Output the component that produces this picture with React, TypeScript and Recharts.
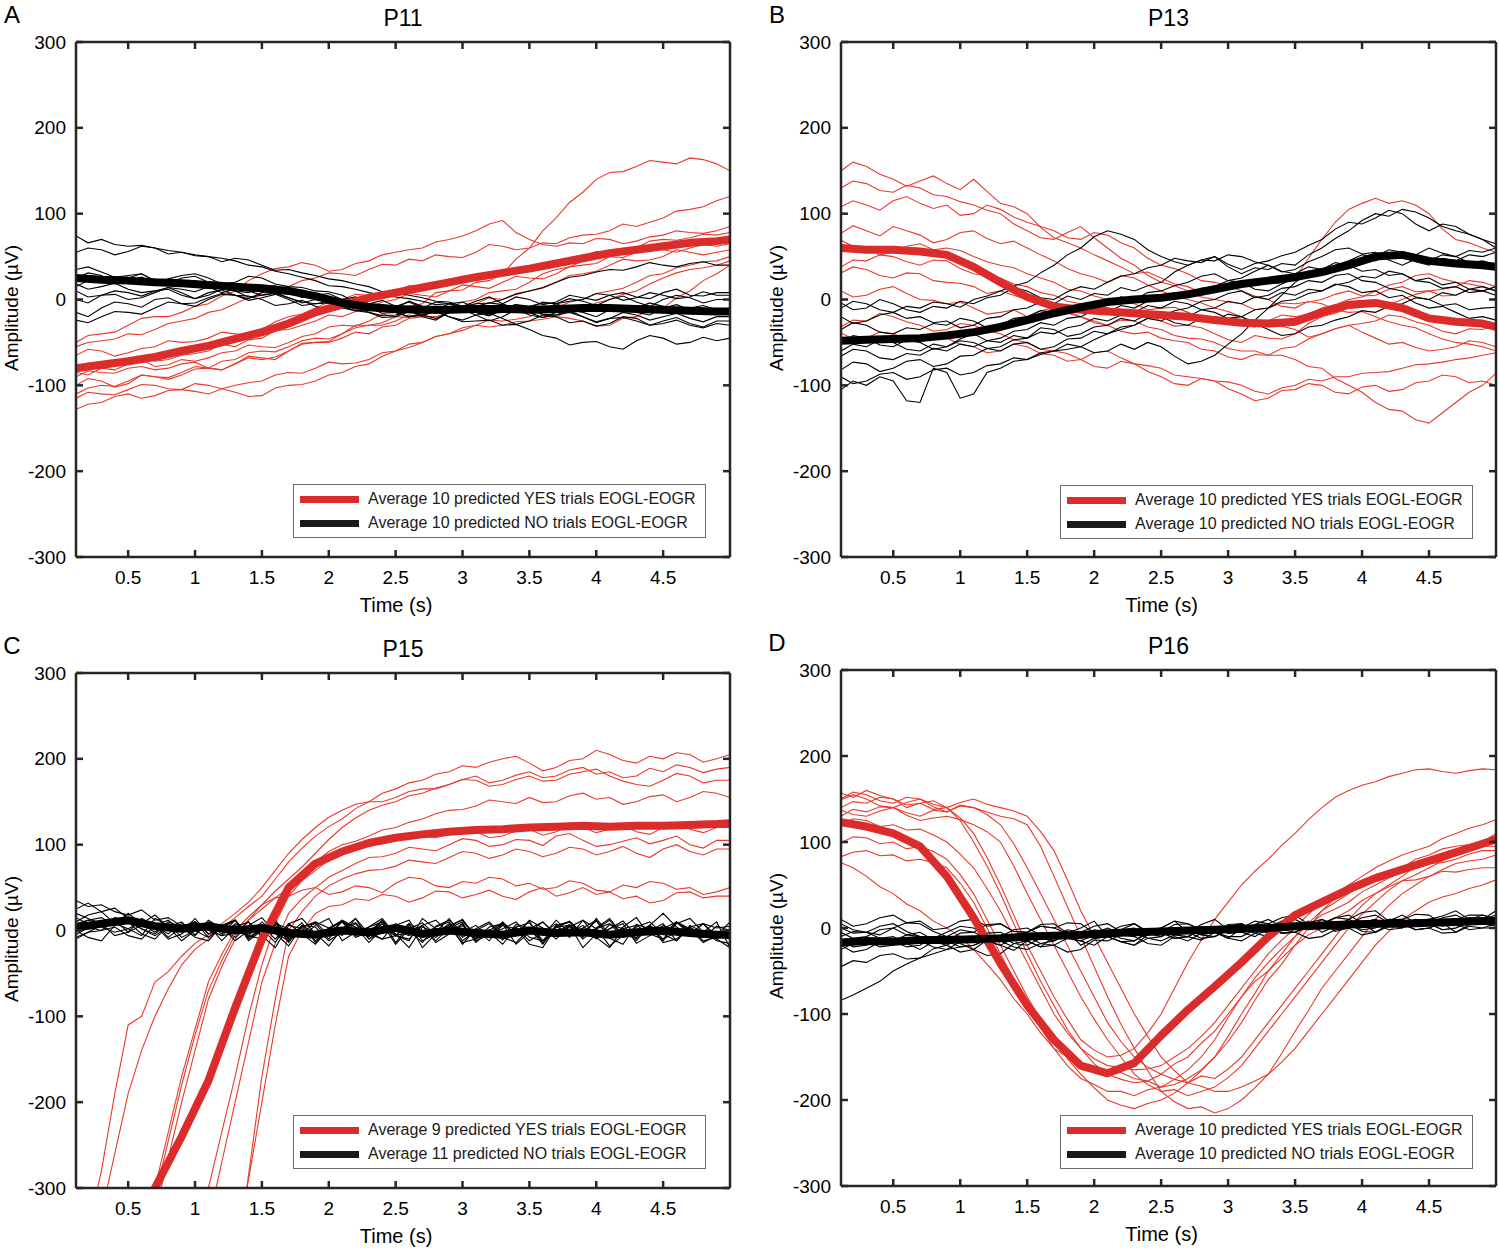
import React from "react";
import { Line, LineChart, XAxis, YAxis } from "recharts";

const FONT = '"Liberation Sans", Arial, Helvetica, sans-serif';
const AXIS = "#262626";
const RED_THIN = "#E8392C";
const RED_THICK = "#DC2B2B";
const BLACK = "#000000";
const TICK_LEN = 7;

// time grid for the single trials (s)
const TIME_FINE = [
  0.11, 0.2, 0.3, 0.4, 0.5, 0.6, 0.7, 0.8, 0.9, 1.0, 1.1, 1.2, 1.3, 1.4, 1.5, 1.6, 1.7, 1.8, 1.9, 2.0,
  2.1, 2.2, 2.3, 2.4, 2.5, 2.6, 2.7, 2.8, 2.9, 3.0, 3.1, 3.2, 3.3, 3.4, 3.5, 3.6, 3.7, 3.8, 3.9, 4.0,
  4.1, 4.2, 4.3, 4.4, 4.5, 4.6, 4.7, 4.8, 4.9, 5.0,
];
// time grid for the averages (s)
const TIME_AVG = [
  0.11, 0.3, 0.5, 0.7, 0.9, 1.1, 1.3, 1.5, 1.7, 1.9, 2.1, 2.3, 2.5, 2.7, 2.9,
  3.1, 3.3, 3.5, 3.7, 3.9, 4.1, 4.3, 4.5, 4.7, 4.9, 5.0,
];
const X_TICKS = [0.5, 1, 1.5, 2, 2.5, 3, 3.5, 4, 4.5];
const Y_TICKS = [-300, -200, -100, 0, 100, 200, 300];

// ---------- P11 ----------
const P11_YES_AVG = [-80, -76, -72, -67, -60, -54, -46, -38, -28, -15, -6, 2, 8, 14, 20, 26, 31, 36, 42, 48, 54, 58, 62, 66, 68, 70];
const P11_NO_AVG = [25, 23, 22, 20, 19, 17, 15, 13, 10, 4, -4, -9, -11, -12, -12, -11, -11, -12, -11, -10, -10, -11, -12, -13, -14, -14];
const P11_YES = [
  [-100, -92, -95, -102, -98, -88, -90, -91, -85, -78, -80, -82, -75, -66, -68, -70, -60, -51, -50, -49, -40, -30, -30, -27, -20, -8, -5, 8, 10, 11, 20, 22, 30, 47, 60, 80, 95, 113, 125, 140, 148, 149, 155, 162, 160, 158, 165, 163, 158, 150],
  [-55, -50, -48, -46, -40, -41, -35, -28, -25, -22, -15, -12, -5, 2, 5, 12, 15, 22, 25, 31, 30, 28, 35, 41, 40, 47, 45, 52, 50, 49, 55, 64, 62, 58, 60, 66, 65, 72, 75, 76, 80, 88, 85, 90, 95, 103, 105, 108, 115, 120],
  [-50, -42, -40, -38, -30, -22, -20, -20, -15, -8, -5, 4, 10, 22, 30, 36, 38, 43, 40, 33, 35, 42, 45, 52, 55, 58, 60, 67, 70, 74, 80, 88, 92, 78, 70, 64, 62, 66, 65, 71, 70, 65, 68, 73, 75, 80, 78, 77, 80, 85],
  [-65, -58, -60, -66, -62, -57, -55, -48, -50, -49, -45, -38, -40, -41, -35, -26, -20, -17, -10, -3, 0, 6, 5, 4, 10, 16, 15, 14, 20, 27, 28, 26, 30, 36, 35, 42, 45, 46, 50, 56, 55, 58, 60, 68, 70, 69, 72, 76, 75, 78],
  [-80, -74, -75, -77, -70, -66, -72, -70, -65, -63, -60, -52, -55, -47, -45, -36, -35, -30, -25, -18, -20, -14, -10, -3, 0, 7, 5, 3, 10, 17, 15, 13, 20, 27, 25, 24, 30, 38, 40, 42, 50, 57, 55, 56, 60, 67, 65, 64, 68, 72],
  [-85, -88, -80, -82, -75, -70, -78, -76, -70, -72, -68, -62, -60, -53, -55, -56, -50, -43, -40, -32, -30, -31, -25, -17, -20, -21, -15, -8, -10, -3, 0, 8, 10, 12, 20, 30, 35, 38, 45, 52, 50, 49, 55, 60, 58, 55, 60, 64, 62, 65],
  [-90, -83, -85, -86, -80, -78, -82, -80, -75, -73, -80, -72, -70, -62, -60, -61, -55, -48, -45, -46, -40, -33, -30, -30, -25, -18, -20, -13, -10, -11, -5, 2, 0, 7, 10, 13, 20, 28, 30, 33, 40, 47, 45, 46, 50, 58, 55, 52, 55, 58],
  [-110, -103, -100, -101, -95, -88, -90, -93, -88, -81, -80, -82, -75, -68, -70, -67, -60, -52, -50, -50, -45, -38, -40, -32, -30, -22, -20, -20, -15, -8, -10, -17, -15, -9, -10, -18, -20, -22, -25, -31, -30, -22, -20, -12, -10, 2, 10, 22, 30, 40],
  [-128, -122, -120, -113, -110, -115, -112, -106, -105, -98, -100, -104, -100, -97, -95, -88, -85, -86, -80, -73, -75, -74, -70, -62, -60, -52, -50, -43, -40, -33, -30, -24, -25, -23, -20, -12, -10, -3, 0, 7, 10, 13, 20, 28, 30, 37, 40, 44, 45, 50],
  [-115, -108, -110, -111, -105, -99, -100, -104, -105, -107, -110, -104, -108, -113, -112, -103, -100, -99, -95, -88, -85, -78, -75, -66, -60, -56, -50, -43, -40, -36, -30, -32, -30, -26, -25, -23, -20, -13, -10, -4, 0, 6, 10, 18, 25, 31, 35, 37, 40, 45],
];
const P11_NO = [
  [74, 66, 70, 64, 62, 63, 60, 53, 55, 51, 50, 44, 48, 46, 40, 34, 35, 31, 28, 24, 22, 18, 15, 9, 8, 5, 2, -2, -3, -8, -5, -4, 0, 6, 10, 14, 20, 26, 28, 32, 35, 34, 38, 43, 40, 38, 42, 44, 40, 40],
  [55, 60, 58, 52, 56, 62, 60, 57, 55, 52, 50, 48, 45, 40, 38, 33, 30, 26, 22, 16, 15, 12, 8, 5, 3, 1, -2, -6, -5, -10, -8, -4, -6, -11, -10, -3, -5, -11, -8, -13, -12, -8, -10, -4, -8, -14, -10, -7, -12, -10],
  [35, 38, 32, 26, 28, 30, 22, 18, 20, 22, 15, 8, 12, 10, 5, 8, 2, -3, -5, -2, -8, -13, -12, -10, -15, -20, -18, -14, -20, -24, -18, -16, -22, -29, -25, -18, -20, -27, -25, -31, -28, -20, -22, -30, -25, -21, -28, -32, -25, -25],
  [25, 31, 28, 20, 22, 26, 20, 24, 28, 30, 25, 18, 20, 27, 25, 18, 15, 14, 10, 9, 5, -3, -5, -6, -10, -2, -8, -12, -5, -3, -10, -11, -5, 3, 0, -6, -3, 5, 2, -1, 5, 8, 3, 1, 8, 12, 5, 4, 8, 8],
  [18, 12, 15, 19, 12, 8, 10, 14, 8, 1, 5, 12, 10, 3, 5, 7, 2, -4, 0, -1, -5, -11, -10, -9, -15, -20, -18, -14, -20, -26, -25, -24, -30, -29, -35, -42, -45, -53, -50, -49, -55, -58, -48, -42, -45, -52, -50, -44, -48, -45],
  [10, 3, 5, 6, 0, 2, 8, 14, 12, 9, 15, 16, 10, 8, 15, 16, 10, 2, 5, 1, -5, -6, -10, -16, -15, -9, -12, -15, -10, -8, -15, -19, -12, -11, -18, -21, -15, -13, -20, -26, -22, -21, -25, -30, -28, -24, -30, -33, -28, -30],
  [0, -4, 5, 10, 8, 4, 10, 12, 5, 1, 8, 11, 5, -1, 2, 6, 0, -7, -5, -4, -10, -13, -15, -21, -20, -14, -18, -22, -15, -10, -12, -17, -10, -6, -8, -12, -5, -2, 0, 7, 5, -1, 2, 8, 5, 1, 3, 9, 5, 5],
  [-15, -20, -10, -3, -5, -9, 0, 2, -5, -4, 2, 7, 5, 4, 0, -7, -5, -1, -8, -14, -10, -7, -15, -19, -18, -13, -20, -24, -15, -12, -18, -25, -20, -12, -15, -21, -18, -15, -20, -27, -22, -15, -18, -24, -20, -16, -22, -26, -20, -20],
  [-24, -27, -20, -14, -15, -17, -10, -3, -5, -8, 0, 6, 5, 1, 8, 13, 10, 4, 5, 7, 0, -6, -5, -1, -8, -14, -10, -3, -5, -8, -2, 3, -5, -11, -8, -4, -5, 1, -2, -7, 0, 4, -3, -8, 0, 5, 2, -4, 0, 0],
  [15, 22, 20, 18, 25, 30, 22, 19, 25, 27, 20, 14, 18, 16, 12, 7, 10, 11, 5, -2, 0, 3, -5, -10, -8, -3, -10, -16, -12, -10, -15, -18, -10, -6, -12, -17, -18, -12, -15, -20, -12, -9, -15, -18, -10, -6, -12, -17, -15, -12],
];

// ---------- P13 ----------
const P13_YES_AVG = [60, 58, 58, 56, 52, 38, 20, 3, -8, -12, -14, -16, -18, -20, -24, -27, -28, -26, -15, -6, -4, -10, -22, -26, -28, -32];
const P13_NO_AVG = [-48, -47, -46, -45, -42, -38, -32, -24, -16, -9, -3, 0, 2, 6, 12, 18, 22, 26, 32, 40, 50, 52, 45, 42, 40, 38];
const P13_YES = [
  [150, 160, 155, 146, 140, 132, 138, 144, 135, 128, 140, 126, 112, 108, 100, 84, 72, 66, 60, 52, 45, 38, 30, 32, 25, 18, 15, 8, 10, 14, 15, 24, 20, 18, 25, 48, 70, 90, 105, 112, 118, 112, 115, 110, 100, 82, 70, 66, 60, 55],
  [108, 115, 110, 104, 115, 120, 112, 106, 110, 98, 100, 110, 105, 96, 90, 85, 80, 72, 70, 78, 75, 66, 60, 48, 40, 36, 30, 22, 20, 16, 10, 4, 0, -8, -10, -2, -5, -12, -15, -14, -20, -26, -30, -33, -40, -46, -50, -52, -55, -60],
  [77, 86, 80, 74, 85, 80, 75, 66, 70, 78, 80, 71, 65, 68, 60, 52, 45, 36, 30, 26, 20, 28, 25, 17, 10, 4, 0, -4, -10, -14, -20, -26, -30, -31, -35, -44, -40, -34, -30, -38, -45, -52, -50, -56, -60, -58, -55, -48, -50, -55],
  [69, 62, 60, 52, 55, 62, 65, 58, 60, 57, 50, 44, 40, 37, 30, 25, 20, 12, 10, 4, 0, -2, -5, -12, -10, -9, -15, -22, -20, -24, -30, -32, -25, -18, -20, -17, -10, -6, 0, 3, 10, 17, 20, 28, 30, 24, 20, 18, 15, 10],
  [38, 46, 45, 52, 50, 44, 40, 46, 45, 36, 30, 28, 25, 18, 15, 8, 5, -2, -5, -4, -10, -16, -20, -18, -25, -31, -30, -33, -40, -47, -50, -42, -45, -46, -40, -28, -20, -16, -10, -9, -5, -6, 0, 6, 10, 12, 15, 22, 20, 15],
  [31, 38, 35, 28, 25, 31, 30, 22, 20, 19, 15, 7, 10, 5, 0, -6, -10, -14, -20, -27, -30, -24, -25, -32, -35, -42, -45, -46, -50, -57, -60, -60, -65, -65, -70, -78, -80, -92, -100, -108, -120, -128, -130, -140, -144, -132, -120, -108, -100, -86],
  [-32, -24, -25, -16, -20, -26, -30, -37, -35, -28, -30, -36, -40, -47, -50, -58, -60, -63, -70, -78, -80, -72, -75, -84, -90, -98, -100, -92, -95, -104, -110, -118, -115, -106, -105, -98, -100, -108, -110, -102, -100, -107, -105, -97, -95, -88, -90, -97, -95, -100],
  [-39, -46, -45, -38, -40, -47, -50, -44, -45, -52, -55, -62, -60, -52, -55, -63, -65, -72, -70, -62, -60, -68, -75, -77, -80, -88, -90, -92, -95, -96, -100, -107, -110, -103, -100, -93, -95, -90, -90, -86, -85, -84, -80, -76, -75, -73, -70, -68, -65, -62],
  [10, 3, 5, 12, 15, 7, 0, -1, -5, -3, -10, -17, -15, -12, -20, -13, -10, -16, -20, -25, -30, -37, -40, -38, -45, -48, -50, -58, -60, -67, -70, -64, -65, -57, -55, -46, -40, -34, -30, -28, -25, -18, -20, -26, -30, -37, -40, -34, -35, -30],
  [130, 138, 135, 127, 125, 133, 130, 122, 120, 114, 110, 104, 100, 88, 80, 72, 70, 78, 85, 72, 60, 48, 40, 28, 20, 16, 10, 3, 0, -3, -5, -12, -10, -4, -5, -3, 0, 6, 10, 4, 5, 12, 15, 9, 10, 4, 5, 12, 10, 15],
];
const P13_NO = [
  [-10, -2, -5, -12, -15, -8, -10, -3, -5, -9, 0, 4, 10, 16, 20, 31, 40, 52, 60, 73, 80, 76, 70, 58, 50, 44, 40, 46, 45, 52, 50, 44, 40, 33, 30, 38, 35, 40, 45, 52, 50, 58, 55, 52, 60, 54, 50, 57, 55, 60],
  [-4, -12, -10, 0, -5, -12, -15, -8, -10, -2, -5, 2, 5, 14, 10, 2, 0, 9, 15, 12, 20, 27, 30, 37, 40, 48, 45, 43, 50, 38, 30, 37, 35, 42, 40, 52, 60, 71, 80, 92, 100, 97, 105, 102, 95, 85, 80, 76, 70, 65],
  [-20, -28, -25, -18, -15, -22, -20, -27, -25, -33, -30, -22, -20, -12, -10, -3, -5, 4, 0, 7, 5, 14, 10, 16, 20, 32, 40, 46, 50, 41, 35, 42, 45, 51, 55, 63, 70, 82, 90, 88, 95, 104, 100, 88, 80, 88, 85, 76, 70, 60],
  [-35, -27, -30, -38, -40, -33, -35, -28, -30, -22, -25, -33, -30, -22, -20, -13, -15, -7, -10, -2, -5, 3, 0, 8, 10, 16, 20, 27, 30, 22, 25, 33, 40, 32, 35, 44, 50, 58, 60, 53, 55, 46, 40, 47, 45, 52, 50, 43, 45, 40],
  [-51, -42, -45, -53, -55, -47, -50, -58, -55, -46, -40, -48, -45, -37, -35, -27, -30, -22, -20, -12, -15, -7, -10, -2, 0, 8, 5, 13, 15, 22, 20, 12, 10, 18, 25, 33, 30, 37, 40, 33, 35, 28, 30, 22, 25, 17, 20, 12, 15, 10],
  [-66, -58, -60, -68, -70, -63, -65, -57, -60, -52, -55, -48, -50, -42, -45, -33, -35, -43, -40, -32, -30, -22, -25, -17, -20, -13, -10, -2, 0, 7, 10, 2, 5, 13, 15, 22, 20, 28, 30, 22, 20, 13, 10, 3, 0, -7, -5, -12, -10, -9],
  [-82, -73, -75, -84, -80, -72, -70, -78, -75, -66, -65, -57, -60, -52, -50, -58, -55, -46, -45, -37, -40, -32, -30, -22, -25, -17, -20, -12, -10, -2, -5, 3, 0, 8, 5, 12, 10, 18, 15, 8, 10, 2, 5, -4, -10, -8, -15, -22, -20, -24],
  [-105, -95, -100, -90, -95, -118, -120, -80, -85, -115, -110, -85, -80, -72, -70, -64, -60, -58, -55, -47, -40, -35, -30, -22, -20, -27, -30, -22, -25, -17, -20, -28, -35, -42, -40, -32, -30, -24, -20, -13, -15, -8, -5, 2, 0, 8, 5, 12, 10, 15],
  [-90, -98, -95, -87, -85, -93, -90, -82, -80, -88, -85, -77, -75, -68, -70, -62, -60, -52, -55, -62, -60, -52, -58, -50, -55, -66, -75, -72, -65, -52, -40, -24, -10, 5, 20, 30, 35, 43, 40, 48, 45, 53, 50, 44, 40, 48, 45, 52, 50, 55],
  [-60, -52, -55, -47, -50, -58, -60, -52, -55, -48, -50, -57, -55, -47, -45, -38, -40, -33, -30, -22, -25, -18, -15, -7, -10, -2, -5, -12, -15, -22, -20, -12, -10, -2, 0, 7, 10, 17, 20, 27, 25, 33, 30, 22, 20, 13, 15, 8, 10, 5],
];

// ---------- P15 ----------
const P15_YES_AVG = [null, null, -400, -300, -240, -175, -90, -10, 50, 78, 92, 102, 108, 112, 115, 117, 118, 120, 121, 122, 121, 122, 122, 123, 124, 125];
const P15_NO_AVG = [3, 8, 12, 5, 2, 5, 0, 3, -3, -5, 0, -2, 3, -4, 0, -3, -5, 0, -3, -2, -5, -2, 0, -3, -5, -5];
const P15_YES = [
  [-420, -350, -280, -190, -110, -100, -60, -48, -30, -15, -5, 8, 20, 33, 50, 70, 90, 106, 120, 132, 140, 147, 150, 150, 155, 162, 165, 165, 170, 176, 175, 168, 170, 176, 180, 174, 175, 182, 185, 188, 180, 174, 170, 168, 175, 183, 180, 172, 175, 175],
  [-450, -390, -330, -260, -190, -140, -100, -68, -40, -22, -10, 3, 15, 28, 40, 60, 80, 96, 110, 121, 130, 142, 150, 160, 165, 172, 175, 182, 185, 192, 190, 196, 200, 203, 195, 186, 190, 198, 200, 210, 205, 198, 195, 203, 200, 207, 205, 196, 200, 205],
  [null, null, null, null, -450, -375, -300, -235, -170, -115, -60, -28, 0, 16, 30, 46, 60, 74, 90, 106, 120, 131, 140, 146, 150, 157, 160, 166, 170, 176, 180, 172, 175, 181, 185, 178, 180, 187, 190, 182, 185, 178, 180, 189, 185, 193, 190, 184, 188, 190],
  [null, null, null, null, -430, -370, -310, -245, -180, -122, -70, -35, -5, 12, 25, 38, 50, 66, 80, 92, 100, 104, 110, 117, 120, 126, 130, 136, 140, 141, 145, 152, 150, 148, 155, 149, 150, 157, 160, 153, 155, 147, 150, 156, 158, 150, 155, 162, 160, 155],
  [null, null, null, null, null, null, null, null, -420, -360, -300, -235, -170, -100, -40, 8, 40, 58, 70, 82, 90, 96, 100, 101, 105, 111, 110, 108, 112, 118, 115, 108, 110, 116, 118, 111, 115, 122, 120, 114, 118, 123, 115, 112, 120, 125, 118, 114, 120, 120],
  [null, null, null, null, null, null, null, null, -480, -410, -340, -270, -200, -130, -60, -15, 20, 37, 50, 62, 70, 78, 85, 86, 90, 97, 95, 93, 100, 107, 105, 98, 100, 106, 105, 99, 110, 113, 105, 98, 100, 104, 108, 101, 105, 110, 100, 96, 105, 105],
  [null, null, null, null, null, null, null, null, null, null, -520, -450, -380, -290, -200, -110, -30, 0, 20, 28, 30, 37, 35, 42, 40, 33, 38, 46, 45, 38, 42, 47, 40, 36, 45, 50, 40, 44, 50, 42, 45, 37, 40, 32, 35, 44, 45, 38, 40, 40],
  [null, null, null, null, null, null, null, null, null, null, -540, -470, -400, -285, -170, -80, 0, 22, 40, 52, 60, 66, 70, 71, 75, 82, 80, 78, 85, 92, 90, 84, 88, 95, 92, 86, 90, 97, 95, 88, 92, 98, 90, 85, 95, 100, 92, 88, 95, 95],
  [null, null, null, null, -480, -405, -330, -265, -200, -140, -80, -42, -10, 12, 30, 38, 40, 47, 50, 42, 45, 52, 50, 44, 55, 62, 60, 52, 50, 57, 55, 62, 60, 52, 55, 48, 50, 58, 55, 47, 45, 53, 50, 57, 55, 48, 50, 42, 45, 50],
];
const P15_NO = [
  [35, 28, 30, 22, 18, 24, 12, 15, 5, 10, 2, -6, 8, -4, 3, 12, -8, 5, -12, 2, 10, -5, 4, 14, -6, -10, 6, 12, -3, 8, -14, 0, 9, -5, 12, 3, -10, 6, -2, 11, -8, 4, 15, -6, 2, 10, -5, 8, 3, 5],
  [25, 32, 22, 26, 14, 8, 18, 4, 10, -5, 12, 2, -8, 6, 15, -3, -12, 4, 10, -6, 2, 14, -4, -10, 8, 0, -14, 5, 12, -2, 6, -8, 10, -5, 3, -16, 4, 11, -3, -9, 7, 2, -12, 6, -4, 9, -1, -8, 5, 0],
  [10, 18, 22, 8, 2, -6, 14, 6, -2, 10, -8, 4, 12, -12, 0, 6, -4, 9, -14, 3, 11, -2, -7, 8, -16, 2, 9, -5, 4, 13, -8, 1, -11, 7, 3, -6, 12, -3, 6, -10, 2, 11, -6, 0, 8, -12, 4, -5, -9, -5],
  [-10, -2, 6, 15, 12, 2, -6, 4, -12, 0, 8, -4, 12, -8, 3, 10, -14, 6, -3, -18, 2, 9, -6, 12, -4, -20, 4, -2, 14, -8, 1, -12, 8, -4, 11, -15, 5, -6, 3, 12, -9, -16, 7, 2, -5, 10, 0, -7, -3, -10],
  [0, -8, -12, 6, 20, 8, -2, 10, 4, -8, -12, 6, 0, -6, 10, -3, -18, 5, 8, -10, 12, 4, -14, 2, -6, 8, -20, -4, 6, 12, -8, -2, -16, 4, 9, -12, -3, 7, -8, 14, -5, 2, -10, 6, 20, 4, -6, 0, -12, -15],
  [5, 12, 8, -6, -2, 14, 6, -4, 8, 0, -8, 6, 12, -10, 2, -14, 8, -4, 10, 3, -6, 14, -10, -2, 6, 12, -12, -4, 8, -16, 2, 10, -6, 4, -12, -3, 8, -8, 12, 2, -18, -6, 4, 10, -4, -12, 6, -2, 10, -20],
  [-5, 4, 0, 12, 10, -4, -10, 6, 2, -6, 10, 4, -12, 0, 6, -10, 8, 14, -4, 2, 10, -8, -2, 12, -14, 6, -6, 4, 10, -12, 0, 8, -8, -14, 2, 10, -4, 6, -10, 3, 14, -6, -8, 4, -12, 10, 2, -14, -6, 10],
  [15, 8, 4, -2, 2, 10, 6, -10, -4, 8, 0, -6, -3, 10, -8, 2, -10, 6, 4, -12, -2, 8, -10, 4, 0, -6, 6, -14, -4, 8, -12, -5, 2, 10, -8, -12, 4, 6, -20, -4, 2, 8, -15, -6, 6, -2, -4, 8, -10, -20],
  [20, 14, 8, 12, -2, 6, 8, -8, 4, 10, -4, 3, 12, -6, -10, 8, 2, -8, 6, 14, -12, -2, 4, 10, -6, -12, 14, 2, -4, 6, -10, -3, 8, -16, -2, 10, -6, 4, 12, -8, -20, 2, 6, -4, -10, 8, 14, -2, -6, 0],
  [-8, -2, 0, 4, -6, -10, 6, 12, -2, 14, -4, 2, 6, -8, 0, 10, -10, -4, -16, 2, 12, -6, 0, 8, -6, -2, 6, -12, 3, 10, -4, -8, 6, 2, -16, -20, 4, 10, -6, 2, 8, -8, -4, 6, -10, -2, 4, -12, -8, -5],
  [8, 12, 15, 6, 10, 2, -4, 8, -8, 0, 6, -12, 4, 10, -6, -20, 6, 2, -8, -4, 10, 4, -2, -10, -6, 8, 0, -8, 4, -14, -10, 4, 8, -6, 0, -12, 6, 10, -4, 2, 12, -8, -2, 6, -14, -10, 4, 8, -6, -10],
];

// ---------- P16 ----------
const P16_YES_AVG = [123, 118, 110, 95, 60, 12, -41, -90, -130, -160, -169, -157, -125, -95, -68, -40, -10, 15, 30, 45, 58, 68, 78, 88, 98, 103];
const P16_NO_AVG = [-17, -15, -16, -14, -14, -13, -12, -10, -9, -8, -6, -5, -4, -3, -2, -1, 0, 2, 3, 4, 5, 5, 6, 7, 8, 8];
const P16_YES = [
  [76, 70, 60, 48, 40, 28, 20, 8, 0, -10, -25, -42, -60, -82, -100, -122, -140, -150, -160, -164, -170, -168, -175, -178, -170, -158, -150, -134, -120, -100, -80, -62, -50, -35, -20, -8, 0, 12, 20, 32, 40, 48, 55, 56, 60, 66, 65, 68, 70, 70],
  [157, 152, 160, 154, 150, 140, 145, 148, 140, 125, 100, 72, 40, 5, -30, -62, -90, -118, -140, -158, -170, -176, -180, -178, -185, -182, -175, -165, -150, -132, -110, -84, -60, -42, -20, 0, 20, 35, 45, 52, 60, 64, 70, 80, 85, 92, 95, 97, 100, 105],
  [149, 155, 150, 142, 140, 146, 150, 141, 135, 142, 140, 132, 120, 98, 70, 40, 10, -20, -50, -80, -110, -132, -150, -162, -170, -176, -180, -172, -175, -164, -150, -130, -110, -90, -70, -50, -30, -10, 10, 26, 40, 50, 60, 72, 80, 86, 90, 96, 100, 110],
  [137, 132, 130, 136, 140, 131, 125, 128, 130, 126, 120, 112, 100, 72, 40, 10, -20, -50, -80, -106, -130, -150, -170, -182, -190, -188, -195, -190, -185, -174, -160, -140, -120, -100, -80, -60, -40, -20, 0, 16, 30, 44, 55, 62, 70, 78, 85, 92, 95, 95],
  [130, 138, 135, 141, 140, 134, 130, 137, 135, 143, 140, 135, 130, 127, 120, 95, 60, 25, -10, -45, -80, -112, -140, -166, -190, -202, -210, -208, -215, -210, -200, -186, -170, -146, -120, -96, -70, -50, -30, -10, 10, 26, 40, 50, 60, 68, 75, 78, 80, 85],
  [99, 106, 105, 98, 100, 92, 95, 89, 80, 62, 40, 10, -20, -50, -80, -106, -130, -152, -170, -186, -200, -206, -210, -204, -200, -192, -180, -166, -150, -126, -100, -76, -50, -30, -10, 6, 20, 30, 40, 52, 60, 64, 70, 72, 75, 84, 90, 96, 100, 100],
  [83, 88, 90, 84, 85, 78, 80, 76, 70, 52, 30, 0, -30, -60, -90, -116, -140, -160, -175, -182, -190, -190, -195, -188, -185, -176, -165, -150, -130, -104, -80, -58, -40, -24, -10, 4, 15, 22, 30, 42, 50, 58, 65, 72, 75, 76, 80, 86, 90, 90],
  [150, 158, 155, 148, 145, 152, 150, 144, 140, 128, 110, 82, 50, 15, -20, -50, -80, -106, -130, -142, -150, -148, -140, -122, -100, -70, -40, -14, 10, 30, 50, 66, 80, 96, 110, 126, 140, 152, 160, 166, 170, 176, 180, 184, 185, 182, 180, 183, 185, 184],
  [140, 147, 145, 152, 150, 143, 145, 138, 140, 146, 150, 144, 140, 136, 130, 112, 90, 56, 20, -10, -40, -70, -100, -126, -150, -166, -180, -184, -190, -190, -185, -178, -170, -156, -140, -120, -100, -80, -60, -40, -20, -4, 10, 20, 30, 36, 40, 46, 50, 56],
  [120, 127, 125, 118, 120, 114, 115, 108, 100, 86, 70, 46, 20, -10, -40, -70, -100, -122, -140, -152, -160, -162, -165, -164, -160, -150, -140, -126, -110, -90, -70, -50, -30, -14, 0, 16, 30, 40, 50, 60, 70, 78, 85, 90, 95, 104, 110, 116, 120, 126],
];
const P16_NO = [
  [-84, -78, -70, -62, -50, -42, -35, -30, -25, -22, -20, -14, -15, -22, -25, -18, -20, -12, -15, -20, -10, -16, -20, -12, -15, -8, -10, -14, -5, -10, -10, -2, 0, -6, -5, 4, 5, -2, 0, 6, 10, 2, 5, 10, 8, 3, 3, 10, 10, 12],
  [-45, -38, -40, -32, -30, -36, -35, -24, -20, -28, -25, -32, -30, -18, -15, -22, -20, -28, -25, -14, -15, -8, -10, -18, -20, -10, -15, -6, -5, -12, 0, -6, -10, -2, -5, 2, 0, 6, 5, -4, -5, 4, 0, 8, 5, -2, 0, 6, 5, 8],
  [10, 2, 5, 12, 15, 6, 8, -2, 0, 8, 10, 2, 5, -4, -5, 4, 5, -6, 0, 8, -10, -2, 5, -6, 0, 8, -5, 4, 10, -2, 0, 8, 5, 12, 15, 4, 5, 12, 10, 18, 20, 8, 10, 16, 15, 4, 5, 12, 10, 15],
  [-5, -12, -10, -2, 0, -8, -5, -14, -15, -6, -5, -12, -10, -2, 0, -8, -10, -2, -5, 2, 5, -4, -5, -12, -10, -2, 0, -8, -5, 4, 5, -4, -5, 4, 0, 6, 10, 2, 5, -2, 0, 8, 15, 6, 10, 14, 20, 10, 15, 10],
  [-20, -28, -25, -16, -15, -22, -20, -10, -10, -18, -25, -14, -20, -26, -15, -8, -5, -12, -15, -8, -10, -2, 0, -8, -5, -12, -10, -2, 0, -6, -5, 4, 5, -2, 0, 8, -5, 2, 10, 4, 5, -2, 0, 8, 10, 2, 5, -2, 0, 5],
  [-10, -4, -5, -12, -15, -8, -10, -16, -20, -12, -15, -6, -5, -12, -10, -18, -15, -6, -5, -12, -10, -16, -15, -4, 0, -8, -5, -12, -10, -2, 5, -4, 0, 8, 10, 2, 5, 12, 15, 6, 10, 2, 5, -2, 0, 6, 10, 15, 15, 10],
  [0, -6, -5, 2, 5, -4, -10, -12, -5, 2, 0, -8, -15, -8, -5, 2, 0, -6, -10, -2, -5, 2, 5, -4, -5, 4, 5, -2, 0, -6, -5, 4, 10, 2, 5, -2, 0, 6, 5, 12, 15, 6, 10, 2, 5, 12, 15, 8, 10, 20],
  [-15, -22, -20, -12, -10, -18, -25, -16, -15, -22, -20, -14, -10, -18, -20, -12, -15, -8, -5, -12, -10, -16, -20, -8, -5, -12, -10, -2, -5, -12, -15, -6, 0, -6, -5, -12, -10, -2, 0, -8, -5, 4, 5, -2, 0, 6, -5, 2, 0, 0],
  [-25, -18, -15, -22, -20, -14, -15, -22, -25, -16, -10, -16, -20, -12, -15, -22, -10, -4, -20, -12, -5, -12, -15, -6, -10, -2, 0, -8, -10, -2, -5, -10, 0, -6, -5, 2, 5, -4, 0, 6, -5, 2, 5, -2, 0, -6, -5, 4, 5, 2],
  [5, -2, -5, -8, 0, 6, 5, -4, -10, -2, -5, 4, 5, -4, -5, 2, 0, 6, 5, -6, 0, -6, -10, -2, 0, 8, 5, -2, -5, 2, 5, -4, -5, 4, 5, -2, 10, 4, 0, 6, 5, 10, 10, 2, 5, -2, 0, 8, 10, 5],
];

type Series = (number | null)[];
type Box = { x0: number; y0: number; x1: number; y1: number };

const toPoints = (times: number[], values: Series) => times.map((t, i) => ({ t, v: values[i] ?? null }));

// inward-pointing MATLAB style ticks; tickSize/tickMargin are 0 so (x, y) sits on the axis line
const BottomTick = ({ x, y, payload }: any) => (
  <g>
    <line x1={x} x2={x} y1={y} y2={y - TICK_LEN} stroke={AXIS} strokeWidth={2.5} />
    <text x={x} y={y + 27} textAnchor="middle" fontSize={19} fontFamily={FONT} fill="#000">
      {payload.value}
    </text>
  </g>
);
const TopTick = ({ x, y }: any) => <line x1={x} x2={x} y1={y} y2={y + TICK_LEN} stroke={AXIS} strokeWidth={2.5} />;
const LeftTick = ({ x, y, payload }: any) => (
  <g>
    <line x1={x} x2={x + TICK_LEN} y1={y} y2={y} stroke={AXIS} strokeWidth={2.5} />
    <text x={x - 10} y={y} dy="0.35em" textAnchor="end" fontSize={19} fontFamily={FONT} fill="#000">
      {payload.value}
    </text>
  </g>
);
const RightTick = ({ x, y }: any) => <line x1={x} x2={x - TICK_LEN} y1={y} y2={y} stroke={AXIS} strokeWidth={2.5} />;

function Txt({ x, y, size, children, rotate }: { x: number; y: number; size: number; children: React.ReactNode; rotate?: boolean }) {
  return (
    <div
      style={{
        position: "absolute",
        left: x,
        top: y,
        transform: `translate(-50%, -50%)${rotate ? " rotate(-90deg)" : ""}`,
        fontFamily: FONT,
        fontSize: size,
        lineHeight: 1,
        whiteSpace: "nowrap",
        color: "#000",
      }}
    >
      {children}
    </div>
  );
}

function LegendBox({ left, top, yesLabel, noLabel }: { left: number; top: number; yesLabel: string; noLabel: string }) {
  const row = (color: string, label: string) => (
    <div style={{ display: "flex", alignItems: "center", height: 24 }}>
      <span style={{ display: "inline-block", width: 59, height: 7, background: color, marginLeft: 6, marginRight: 9 }} />
      <span>{label}</span>
    </div>
  );
  return (
    <div
      style={{
        position: "absolute",
        left,
        top,
        width: 411,
        height: 50,
        border: "1.5px solid #6b6b6b",
        background: "#fff",
        fontFamily: FONT,
        fontSize: 16,
        color: "#1a1a1a",
        paddingTop: 2,
        boxSizing: "content-box",
      }}
    >
      {row(RED_THICK, yesLabel)}
      {row("#1a1a1a", noLabel)}
    </div>
  );
}

const axisLine = { stroke: AXIS, strokeWidth: 2.5 };

function Panel({
  box,
  letter,
  title,
  yes,
  no,
  yesAvg,
  noAvg,
  yesLabel,
  noLabel,
  legendAt,
}: {
  box: Box;
  letter: string;
  title: string;
  yes: Series[];
  no: Series[];
  yesAvg: Series;
  noAvg: Series;
  yesLabel: string;
  noLabel: string;
  legendAt: [number, number];
}) {
  const w = box.x1 - box.x0;
  const h = box.y1 - box.y0;
  const cx = (box.x0 + box.x1) / 2;
  const noAvgPts = toPoints(TIME_AVG, noAvg);
  return (
    <>
      <div style={{ position: "absolute", left: box.x0 - 76, top: box.y0 - 42 }}>
        <LineChart width={w + 82} height={h + 112} margin={{ top: 41, right: 5, bottom: 40, left: 10 }}>
          <XAxis
            dataKey="t"
            type="number"
            domain={[0.11, 5]}
            ticks={X_TICKS}
            allowDataOverflow
            height={30}
            axisLine={axisLine}
            tickLine={false}
            tickSize={0}
            tickMargin={0}
            tick={BottomTick}
            interval={0}
          />
          <XAxis
            xAxisId="top"
            dataKey="t"
            type="number"
            orientation="top"
            domain={[0.11, 5]}
            ticks={X_TICKS}
            allowDataOverflow
            height={1}
            axisLine={axisLine}
            tickLine={false}
            tickSize={0}
            tickMargin={0}
            tick={TopTick}
            interval={0}
          />
          <YAxis
            type="number"
            domain={[-300, 300]}
            ticks={Y_TICKS}
            allowDataOverflow
            width={66}
            axisLine={axisLine}
            tickLine={false}
            tickSize={0}
            tickMargin={0}
            tick={LeftTick}
            interval={0}
          />
          <YAxis
            yAxisId="right"
            type="number"
            orientation="right"
            domain={[-300, 300]}
            ticks={Y_TICKS}
            allowDataOverflow
            width={1}
            axisLine={axisLine}
            tickLine={false}
            tickSize={0}
            tickMargin={0}
            tick={RightTick}
            interval={0}
          />
          {yes.map((s, k) => (
            <Line key={`y${k}`} data={toPoints(TIME_FINE, s)} dataKey="v" stroke={RED_THIN} strokeWidth={1.1} dot={false} activeDot={false} isAnimationActive={false} connectNulls={false} />
          ))}
          {no.map((s, k) => (
            <Line key={`n${k}`} data={toPoints(TIME_FINE, s)} dataKey="v" stroke={BLACK} strokeWidth={1.1} dot={false} activeDot={false} isAnimationActive={false} />
          ))}
          <Line data={toPoints(TIME_AVG, yesAvg)} dataKey="v" stroke={RED_THICK} strokeWidth={8} strokeLinejoin="round" dot={false} activeDot={false} isAnimationActive={false} connectNulls={false} />
          <Line data={noAvgPts} dataKey="v" stroke={BLACK} strokeWidth={8} strokeLinejoin="round" dot={false} activeDot={false} isAnimationActive={false} />
          {/* invisible series so the mirrored top/right axes are drawn */}
          <Line xAxisId="top" yAxisId="right" data={noAvgPts} dataKey="v" stroke="none" strokeWidth={0} dot={false} activeDot={false} isAnimationActive={false} />
        </LineChart>
      </div>
      <Txt x={box.x0 - 64} y={box.y0 - 27} size={24}>{letter}</Txt>
      <Txt x={cx} y={box.y0 - 24} size={23}>{title}</Txt>
      <Txt x={cx - 7} y={box.y1 + 48} size={20}>Time (s)</Txt>
      <Txt x={box.x0 - 65} y={(box.y0 + box.y1) / 2 + 8} size={19} rotate>Amplitude (µV)</Txt>
      <LegendBox left={legendAt[0]} top={legendAt[1]} yesLabel={yesLabel} noLabel={noLabel} />
    </>
  );
}

export default function App() {
  return (
    <div style={{ position: "absolute", left: 0, top: 0, width: 1499, height: 1252, overflow: "hidden", background: "#fff" }}>
      <Panel
        box={{ x0: 76, y0: 42, x1: 730, y1: 557 }}
        letter="A"
        title="P11"
        yes={P11_YES}
        no={P11_NO}
        yesAvg={P11_YES_AVG}
        noAvg={P11_NO_AVG}
        yesLabel="Average 10 predicted YES trials EOGL-EOGR"
        noLabel="Average 10 predicted NO trials EOGL-EOGR"
        legendAt={[293, 484]}
      />
      <Panel
        box={{ x0: 841, y0: 42, x1: 1496, y1: 557 }}
        letter="B"
        title="P13"
        yes={P13_YES}
        no={P13_NO}
        yesAvg={P13_YES_AVG}
        noAvg={P13_NO_AVG}
        yesLabel="Average 10 predicted YES trials EOGL-EOGR"
        noLabel="Average 10 predicted NO trials EOGL-EOGR"
        legendAt={[1060, 485]}
      />
      <Panel
        box={{ x0: 76, y0: 673, x1: 730, y1: 1188 }}
        letter="C"
        title="P15"
        yes={P15_YES}
        no={P15_NO}
        yesAvg={P15_YES_AVG}
        noAvg={P15_NO_AVG}
        yesLabel="Average 9 predicted YES trials EOGL-EOGR"
        noLabel="Average 11 predicted NO trials EOGL-EOGR"
        legendAt={[293, 1115]}
      />
      <Panel
        box={{ x0: 841, y0: 670, x1: 1496, y1: 1186 }}
        letter="D"
        title="P16"
        yes={P16_YES}
        no={P16_NO}
        yesAvg={P16_YES_AVG}
        noAvg={P16_NO_AVG}
        yesLabel="Average 10 predicted YES trials EOGL-EOGR"
        noLabel="Average 10 predicted NO trials EOGL-EOGR"
        legendAt={[1060, 1115]}
      />
    </div>
  );
}
